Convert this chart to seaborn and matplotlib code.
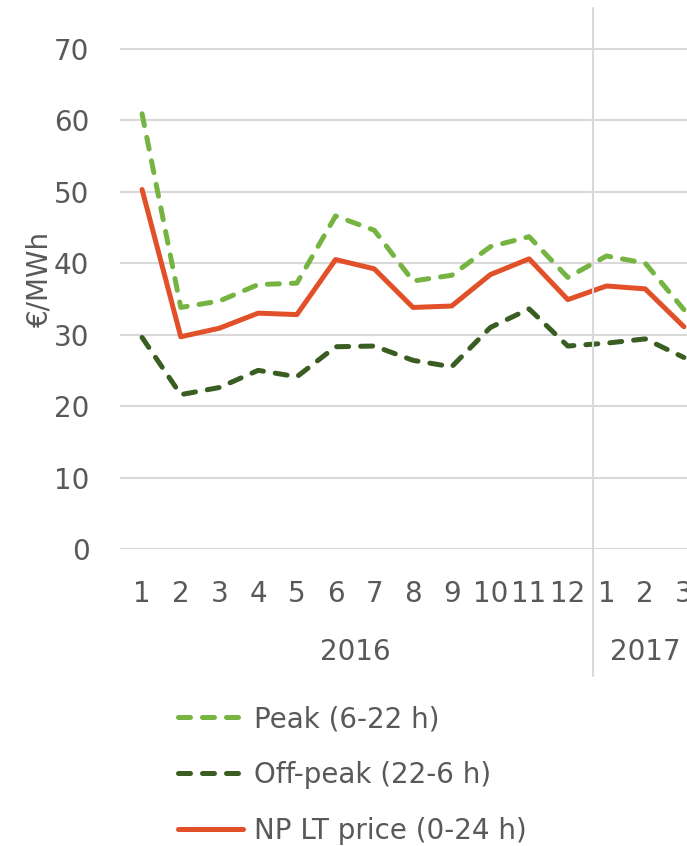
import numpy as np
import pandas as pd
import matplotlib
matplotlib.use("Agg")
import matplotlib.pyplot as plt
import seaborn as sns

# ============================================================
# DATA
# ============================================================

months = ["1", "2", "3", "4", "5", "6", "7", "8", "9", "10", "11", "12", "1", "2", "3"]
years = ["2016", "2017"]
months_per_year = [12, 3]

peak = [60.9, 33.8, 34.7, 37.0, 37.2, 46.6, 44.6, 37.5, 38.3, 42.3, 43.7, 38.0, 41.0, 40.0, 33.5]
off_peak = [29.6, 21.6, 22.6, 25.0, 24.1, 28.3, 28.4, 26.4, 25.5, 31.0, 33.6, 28.4, 28.8, 29.4, 26.8]
np_lt = [50.3, 29.7, 30.9, 33.0, 32.8, 40.5, 39.2, 33.8, 34.0, 38.4, 40.6, 34.9, 36.8, 36.4, 31.1]

SERIES = ["Peak (6-22 h)", "Off-peak (22-6 h)", "NP LT price (0-24 h)"]
COLORS = {SERIES[0]: "#76B442", SERIES[1]: "#3A5E22", SERIES[2]: "#E2502A"}
DASHES = {SERIES[0]: (2.4, 2.4), SERIES[1]: (2.4, 2.4), SERIES[2]: ""}

TEXT = "#595959"
GRID = "#D9D9D9"

pos = np.arange(1, len(months) + 1)
df = pd.concat([
    pd.DataFrame({"pos": pos, "value": vals, "series": name})
    for name, vals in zip(SERIES, [peak, off_peak, np_lt])
])

# ============================================================
# PLOT
# ============================================================

sns.set_theme(style="white")
plt.rcParams["font.family"] = ["DejaVu Sans"]
plt.rcParams["lines.dash_capstyle"] = "round"
plt.rcParams["lines.solid_capstyle"] = "round"

fig = plt.figure(figsize=(6.87, 8.46), dpi=100)
ax = fig.add_axes([120 / 687, 1 - 549 / 846, 1 - 120 / 687, (549 - 8) / 846])

sns.lineplot(
    data=df, x="pos", y="value",
    hue="series", style="series",
    palette=COLORS, dashes=DASHES,
    linewidth=3.6, legend=False, ax=ax
)

ax.set_xlim(0.43, 15.08)
ax.set_ylim(0, 75.7)
ax.set_yticks(range(0, 71, 10))
ax.set_xticks(pos)
ax.set_xticklabels(months)
ax.tick_params(axis="both", length=0, labelsize=20, colors=TEXT)
ax.tick_params(axis="x", pad=22)
ax.tick_params(axis="y", pad=22)
ax.yaxis.grid(True, color=GRID, linewidth=1.5)
ax.set_axisbelow(True)
for s in ax.spines.values():
    s.set_visible(False)

ax.set_xlabel("")
ax.set_ylabel("€/MWh", fontsize=20, color=TEXT, labelpad=0)

# year separator and year labels
bottom = -(676 - 549) / 541
ax.axvline(12.65, ymin=bottom, ymax=1, color=GRID, linewidth=1.5, clip_on=False)

start = 0.5
for yr, n in zip(years, months_per_year):
    ax.text(start + n / 2, -0.19, yr, transform=ax.get_xaxis_transform(),
            ha="center", va="center", fontsize=20, color=TEXT)
    start += n

# legend
handles = [
    plt.Line2D([], [], color=COLORS[s], linewidth=3.6,
               dashes=DASHES[s] if DASHES[s] else (None, None))
    for s in SERIES
]
handles[2].set_linestyle("-")
leg = fig.legend(
    handles, SERIES, loc="upper left",
    bbox_to_anchor=(178 / 687, 1 - 705 / 846),
    frameon=False, fontsize=20, handlelength=2.35, handletextpad=0.4,
    labelspacing=1.0, borderpad=0, borderaxespad=0
)
for t in leg.get_texts():
    t.set_color(TEXT)

plt.savefig("out.png", dpi=100)
